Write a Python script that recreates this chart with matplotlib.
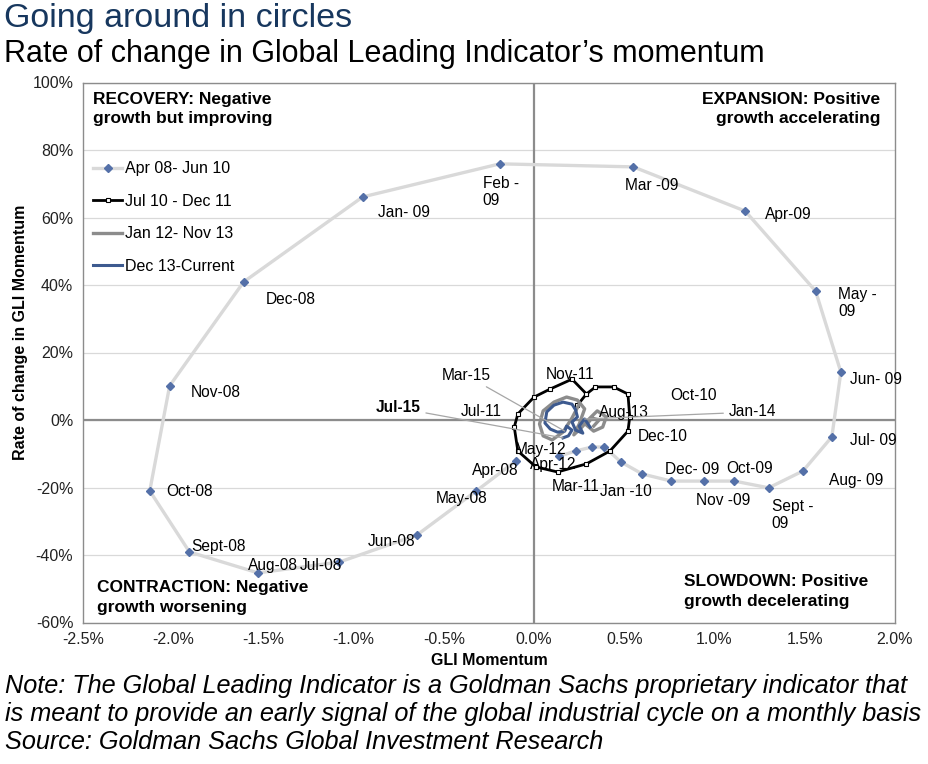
import matplotlib
matplotlib.use("Agg")
import matplotlib.pyplot as plt
from matplotlib.ticker import FuncFormatter, MultipleLocator

plt.rcParams['font.family'] = ['Liberation Sans', 'DejaVu Sans']

# GLI momentum (%) and rate of change of momentum (%), monthly
s1_months = ["Apr-08", "May-08", "Jun-08", "Jul-08", "Aug-08", "Sept-08", "Oct-08", "Nov-08",
             "Dec-08", "Jan- 09", "Feb -\n09", "Mar -09", "Apr-09", "May -\n09", "Jun- 09",
             "Jul- 09", "Aug- 09", "Sept -\n09", "Oct-09", "Nov -09", "Dec- 09", "Jan -10",
             "Feb-10", "Mar-10", "Apr-10", "May-10", "Jun-10"]
s1_x = [-0.10, -0.32, -0.65, -1.08, -1.53, -1.91, -2.13, -2.02, -1.61, -0.95, -0.19, 0.55,
        1.17, 1.56, 1.70, 1.65, 1.49, 1.30, 1.11, 0.94, 0.76, 0.60, 0.48, 0.39, 0.32, 0.23, 0.14]
s1_y = [-12.1, -21.0, -34.1, -42.1, -45.3, -39.1, -21.0, 10.1, 40.9, 66.1, 75.9, 75.0,
        61.9, 38.2, 14.2, -5.0, -15.1, -20.1, -18.1, -18.1, -18.1, -16.0, -12.4, -8.0, -8.0, -9.2, -10.7]

s2_months = ["Jul-10", "Aug-10", "Sep-10", "Oct-10", "Nov-10", "Dec-10", "Jan-11", "Feb-11",
             "Mar-11", "Apr-11", "May-11", "Jun-11", "Jul-11", "Aug-11", "Sep-11", "Oct-11",
             "Nov-11", "Dec-11"]
s2_x = [0.24, 0.29, 0.34, 0.44, 0.52, 0.53, 0.52, 0.42, 0.29, 0.13, 0.01, -0.09, -0.11, -0.09,
        0.00, 0.09, 0.21, 0.29]
s2_y = [4.4, 7.7, 9.8, 9.8, 7.7, 0.9, -3.3, -9.2, -13.0, -15.4, -13.9, -9.2, -2.1, 1.8,
        6.8, 9.2, 12.1, 7.7]

s3_months = ["Jan-12", "Feb-12", "Mar-12", "Apr-12", "May-12", "Jun-12", "Jul-12", "Aug-12",
             "Sep-12", "Oct-12", "Nov-12", "Dec-12", "Jan-13", "Feb-13", "Mar-13", "Apr-13",
             "May-13", "Jun-13", "Jul-13", "Aug-13", "Sep-13", "Oct-13", "Nov-13"]
s3_x = [0.25, 0.21, 0.16, 0.10, 0.05, 0.03, 0.05, 0.11, 0.18, 0.24, 0.28, 0.25, 0.22, 0.26,
        0.31, 0.35, 0.40, 0.38, 0.33, 0.29, 0.32, 0.36, 0.33]
s3_y = [4.7, 0.6, -3.6, -5.9, -4.7, -1.2, 2.7, 5.3, 6.8, 5.9, 3.3, -1.2, -4.4, -2.4,
        0.6, 2.7, 0.9, -2.1, -3.3, -1.5, 0.6, 0.0, -1.8]

s4_months = ["Dec-13", "Jan-14", "Feb-14", "Mar-14", "Apr-14", "May-14", "Jun-14", "Jul-14",
             "Aug-14", "Sep-14", "Oct-14", "Nov-14", "Dec-14", "Jan-15", "Feb-15", "Mar-15",
             "Apr-15", "May-15", "Jun-15", "Jul-15"]
s4_x = [0.31, 0.28, 0.25, 0.27, 0.23, 0.21, 0.24, 0.23, 0.21, 0.16, 0.11, 0.07, 0.06, 0.09,
        0.13, 0.17, 0.18, 0.21, 0.19, 0.16]
s4_y = [-2.1, 0.3, -1.8, -3.9, -3.0, -0.6, 0.9, 3.0, 4.7, 5.3, 4.4, 2.4, -0.9, -2.7,
        -3.6, -3.3, -1.8, -3.0, -4.7, -5.3]

fig = plt.figure(figsize=(9.29, 7.64), dpi=100)
ax = fig.add_axes([83 / 929, 1 - 622.5 / 764, 812 / 929, 540 / 764])

ax.set_xlim(-2.5, 2.0)
ax.set_ylim(-60, 100)
ax.yaxis.set_major_locator(MultipleLocator(20))
ax.xaxis.set_major_locator(MultipleLocator(0.5))
ax.yaxis.set_major_formatter(FuncFormatter(lambda v, p: f"{v:.0f}%"))
ax.xaxis.set_major_formatter(FuncFormatter(lambda v, p: f"{v:.1f}%"))
ax.tick_params(length=0, labelsize=11.5, colors='#222222', pad=7)
ax.grid(axis='y', color='#d9d9d9', lw=0.9)
ax.set_axisbelow(True)
for sp in ax.spines.values():
    sp.set_color('#8c8c8c')
    sp.set_linewidth(1.0)
ax.axhline(0, color='#8c8c8c', lw=1.6, zorder=1)
ax.axvline(0, color='#8c8c8c', lw=1.6, zorder=1)

ax.set_xlabel("GLI Momentum", fontsize=11.5, fontweight='bold', labelpad=4)
ax.set_ylabel("Rate of change in GLI Momentum", fontsize=11.5, fontweight='bold')
ax.yaxis.set_label_coords(-0.068, 0.538)

# series
ax.plot(s1_x, s1_y, color='#d9d9d9', lw=2.4, marker='D', ms=4.5, mfc='#5470a8', mec='#5470a8',
        label="Apr 08- Jun 10", zorder=3)
ax.plot(s2_x, s2_y, color='black', lw=2.0, marker='s', ms=3.5, mfc='white', mec='black', mew=0.8,
        label="Jul 10 - Dec 11", zorder=4)
ax.plot(s3_x, s3_y, color='#8c8c8c', lw=2.4, label="Jan 12- Nov 13", zorder=5)
ax.plot(s4_x, s4_y, color='#3d5a8f', lw=2.2, label="Dec 13-Current", zorder=6)

# point labels (offsets in pixels)
lab_kw = dict(textcoords='offset pixels', fontsize=11.2, ha='center', va='center', zorder=8)
s1_off = {"Apr-08": (-21, -10), "May-08": (-15, -8), "Jun-08": (-25, -6), "Jul-08": (-18, -3),
          "Aug-08": (15, 7), "Sept-08": (29, 5), "Oct-08": (40, -1), "Nov-08": (46, -7),
          "Dec-08": (47, -18), "Jan- 09": (41, -16), "Feb -\n09": (1, -28), "Mar -09": (18, -19),
          "Apr-09": (43, -3), "May -\n09": (42, -12), "Jun- 09": (35, -7), "Jul- 09": (41, -4),
          "Aug- 09": (53, -10), "Oct-09": (15, 13), "Nov -09": (19, -19), "Dec- 09": (21, 12),
          "Jan -10": (-17, -18)}
for m, x, y in zip(s1_months, s1_x, s1_y):
    if m in s1_off:
        ax.annotate(m, (x, y), xytext=s1_off[m], multialignment='left', **lab_kw)
i = s1_months.index("Sept -\n09")
ax.annotate("Sept -\n09", (s1_x[i], s1_y[i]), xytext=(3, -27), textcoords='offset pixels',
            fontsize=11.2, ha='left', va='center', zorder=8)

s2_off = {"Oct-10": (80, -9), "Dec-10": (33, -20), "Mar-11": (-11, -23), "Jul-11": (-33, 16),
          "Nov-11": (-2, 5)}
for m, x, y in zip(s2_months, s2_x, s2_y):
    if m in s2_off:
        ax.annotate(m, (x, y), xytext=s2_off[m], **lab_kw)

s3_off = {"May-12": (-3, -14), "Apr-12": (1, -25), "Aug-13": (37, 13)}
for m, x, y in zip(s3_months, s3_x, s3_y):
    if m in s3_off:
        ax.annotate(m, (x, y), xytext=s3_off[m], **lab_kw)

# leader-line labels for the latest series
s4_lead = {"Jan-14": (168, 7, 'normal'), "Mar-15": (-99, 56, 'normal'), "Jul-15": (-165, 30, 'bold')}
for m, x, y in zip(s4_months, s4_x, s4_y):
    if m in s4_lead:
        dx, dy, w = s4_lead[m]
        ax.annotate(m, (x, y), xytext=(dx, dy), textcoords='offset pixels', fontsize=11.2,
                    fontweight=w, ha='center', va='center', zorder=8,
                    arrowprops=dict(arrowstyle='-', color='#a6a6a6', lw=0.9,
                                    shrinkA=2, shrinkB=0))

# quadrant captions
q_kw = dict(transform=ax.transAxes, fontsize=12.5, fontweight='bold', va='top', linespacing=1.35)
ax.text(0.012, 0.983, "RECOVERY: Negative\ngrowth but improving", ha='left', **q_kw)
ax.text(0.982, 0.983, "EXPANSION: Positive\ngrowth accelerating", ha='right', **q_kw)
ax.text(0.017, 0.078, "CONTRACTION: Negative\ngrowth worsening", ha='left', **q_kw)
ax.text(0.74, 0.089, "SLOWDOWN: Positive\ngrowth decelerating", ha='left', **q_kw)

leg = ax.legend(loc='upper left', bbox_to_anchor=(0.005, 0.866), frameon=False, fontsize=11.5,
                handlelength=1.8, handletextpad=0.2, labelspacing=1.1, borderaxespad=0)

# titles and notes
fig.text(4 / 929, 1 - 18 / 764, "Going around in circles", fontsize=24.5, color='#17375e',
         ha='left', va='center')
fig.text(4 / 929, 1 - 54 / 764, "Rate of change in Global Leading Indicator\u2019s momentum",
         fontsize=22, color='black', ha='left', va='center')
note = ("Note: The Global Leading Indicator is a Goldman Sachs proprietary indicator that\n"
        "is meant to provide an early signal of the global industrial cycle on a monthly basis\n"
        "Source: Goldman Sachs Global Investment Research")
fig.text(5 / 929, 1 - 714 / 764, note, fontsize=18.2, style='italic', ha='left', va='center',
         linespacing=1.22)

fig.savefig("out.png", dpi=100)
